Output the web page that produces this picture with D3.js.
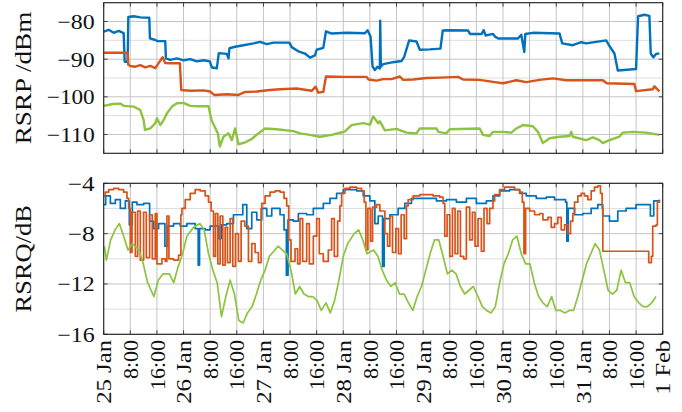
<!DOCTYPE html>
<html>
<head>
<meta charset="utf-8">
<script src="https://cdn.jsdelivr.net/npm/d3@7"></script>
<style>
  html, body { margin: 0; padding: 0; background: #fff; }
  svg { display: block; }
</style>
</head>
<body>
<svg id="chart" width="682" height="412"></svg>
<script>
// Hours since 25 Jan 00:00, one tick every 8 hours up to 1 Feb 00:00
const tickHours = d3.range(0, 169, 8);
const tickLabels = ["25 Jan", "8:00", "16:00", "26 Jan", "8:00", "16:00", "27 Jan", "8:00", "16:00",
  "28 Jan", "8:00", "16:00", "29 Jan", "8:00", "16:00", "30 Jan", "8:00", "16:00",
  "31 Jan", "8:00", "16:00", "1 Feb"];

const rsrpTicks = [-80, -90, -100, -110];
const rsrqTicks = [-4, -8, -12, -16];

// RSRP [hour, dBm]
const rsrpBlue = [
  [0,-82.7],[1.5,-82.2],[3,-83.0],[4.5,-82.5],[6.0,-83.1],[6.3,-90.7],[7.2,-90.7],[7.4,-78.8],[9,-78.6],
  [11,-78.9],[13.7,-79.0],[13.9,-84.5],[15.5,-84.9],[16.2,-85.2],[18.5,-85.2],[18.7,-89.8],[20,-90.2],
  [22,-89.8],[24,-90.3],[26,-90.0],[28,-90.6],[30,-90.3],[31.9,-90.6],[32.5,-92.2],[34.0,-92.4],
  [34.6,-88.4],[37,-88.6],[37.5,-89.8],[37.8,-87.1],[39.5,-86.7],[42,-86.3],[45,-85.8],[47,-85.4],
  [49,-86.0],[51,-85.6],[55.8,-85.6],[56.5,-86.8],[58.5,-87.9],[60.5,-88.5],[62,-89.6],[63.5,-89.0],
  [64.0,-87.5],[66.0,-87.0],[66.8,-82.6],[68.5,-83.2],[73,-83.0],[78.5,-83.1],[79.3,-82.3],[80.2,-84.0],
  [80.8,-91.9],[81.5,-92.9],[82.3,-92.0],[83.0,-92.5],[83.1,-79.8],[83.3,-92.0],[84.0,-91.3],[87,-90.8],
  [89.5,-90.5],[90.3,-89.4],[91.8,-85.0],[94.0,-85.3],[95.0,-87.5],[98,-87.4],[101.2,-87.2],[101.9,-82.4],
  [104,-82.3],[109.5,-82.4],[110.1,-83.3],[113.6,-83.3],[114.2,-82.3],[114.8,-83.7],[117.0,-83.3],
  [117.6,-84.0],[118.6,-84.5],[124.5,-84.5],[125.5,-83.5],[126.4,-88.1],[126.7,-83.3],[129,-83.0],
  [137.0,-83.2],[137.8,-85.8],[141,-86.3],[143.5,-85.5],[145,-85.8],[148,-85.4],[151.0,-85.0],
  [152.0,-86.5],[153.5,-88.5],[154.5,-93.0],[160.0,-92.6],[160.6,-78.6],[162.5,-78.2],[164.0,-78.5],
  [164.4,-88.5],[165.2,-89.5],[166.0,-88.6],[167.0,-88.5]
];
const rsrpOrange = [
  [0,-88.3],[7.2,-88.3],[7.4,-91.5],[8,-91.8],[9.5,-92.0],[11,-91.6],[12.5,-92.2],[14,-91.8],[15.5,-92.4],
  [16.4,-91.2],[17.7,-89.5],[18.5,-91.0],[20,-91.1],[22.9,-91.1],[23.3,-98.2],[26,-98.4],[30,-98.3],
  [32,-98.6],[33.2,-99.5],[37,-99.3],[40.5,-99.5],[42.5,-98.7],[46,-98.6],[50,-98.2],[53,-98.0],
  [58,-97.8],[62.5,-98.4],[63.7,-97.3],[64.5,-98.9],[66.0,-98.7],[66.8,-94.6],[72,-94.7],[79.0,-94.7],
  [79.6,-95.4],[82,-95.7],[84,-95.3],[86.5,-95.3],[89.0,-94.6],[90,-95.5],[93,-95.4],[97,-95.0],
  [101,-94.9],[106.5,-94.7],[108,-95.4],[113,-95.5],[117.5,-96.1],[120,-96.4],[124,-95.6],[127,-96.1],
  [131,-95.5],[135,-95.1],[139,-95.6],[150,-95.6],[151.2,-96.4],[159.5,-96.6],[160.0,-98.5],[165,-98.0],
  [165.5,-97.2],[166.2,-97.8],[167,-98.6]
];
const rsrpGreen = [
  [0,-102.4],[2.8,-101.9],[5,-101.8],[6.0,-102.4],[9.0,-102.6],[11,-103.5],[12,-106.2],[12.4,-108.8],
  [14,-108.4],[15.5,-107.0],[16.0,-105.7],[17,-107.5],[18,-106.2],[19,-104.4],[20.5,-102.6],[22,-101.7],
  [24,-101.6],[26,-102.4],[28,-102.5],[31.5,-102.5],[32.4,-106.2],[33.4,-108.0],[34.3,-109.7],
  [34.9,-113.2],[36.0,-110.6],[37.5,-109.7],[38.5,-111.5],[39.5,-108.4],[40.5,-112.6],[42.5,-112.1],
  [44.5,-111.2],[46.5,-109.7],[48.5,-108.4],[52,-108.6],[57,-109.1],[59,-109.7],[62,-110.1],[65,-110.6],
  [68.5,-110.1],[72.5,-109.2],[74.5,-107.5],[78,-107.0],[80,-107.4],[81.0,-105.2],[82.5,-107.0],
  [83.0,-106.5],[84.5,-108.9],[88,-108.5],[91,-109.5],[94,-109.7],[95,-108.4],[100,-108.4],[100.6,-109.3],
  [103,-109.7],[104,-108.6],[113,-108.4],[114,-110.1],[116,-110.4],[117,-109.3],[120,-109.3],
  [122.5,-109.5],[124,-108.4],[126,-107.5],[129,-107.8],[130.5,-109.3],[132,-112.3],[134,-111.0],
  [137,-110.6],[140,-110.4],[140.5,-109.3],[141,-110.6],[145,-111.5],[147,-110.8],[149,-111.5],
  [150,-112.3],[152,-111.5],[155,-110.6],[156,-109.5],[159,-109.3],[163,-109.5],[167,-110.1]
];

// RSRQ [hour, dB]
const rsrqBlue = [
  [0,-5.7],[0.6,-5.0],[2,-5.6],[3.5,-5.3],[5,-6.0],[6.5,-5.4],[7.7,-7.3],[8.6,-5.5],[10,-5.7],
  [12,-5.6],[13.8,-7.0],[15,-7.6],[16.5,-7.2],[18.4,-9.0],[19.2,-7.4],[21,-7.2],[23,-7.4],[25,-7.2],
  [27.5,-7.6],[28.4,-10.5],[28.8,-7.6],[30.5,-7.7],[32,-7.4],[34.6,-8.4],[35.4,-7.3],[37,-7.2],
  [39,-6.5],[41.8,-5.7],[43,-7.6],[44.5,-6.3],[46,-6.9],[47.5,-6.0],[49,-6.6],[50.5,-6.0],
  [53,-6.5],[54.2,-7.7],[54.9,-11.3],[55.4,-6.9],[57,-7.0],[58.5,-6.4],[61,-6.5],[63,-6.0],
  [66,-5.6],[68,-5.2],[70,-4.8],[72,-4.5],[76,-4.6],[78,-5.0],[80,-5.4],[81.5,-7.2],[82.5,-6.6],
  [83.8,-10.6],[84.3,-6.8],[86,-6.5],[88.5,-6.0],[90.5,-5.6],[92.5,-5.2],[96,-5.2],[100,-5.4],
  [103,-5.3],[106,-5.5],[109,-5.2],[112,-5.6],[115,-5.4],[117,-5.0],[119,-4.6],[122,-4.5],
  [125,-4.8],[127,-5.0],[130,-5.2],[133,-5.1],[135.5,-5.3],[138.8,-5.5],[139.2,-8.6],[139.6,-6.0],
  [141.5,-6.5],[144,-6.4],[146.5,-6.0],[148.5,-5.7],[150,-6.6],[152,-7.0],[154.5,-6.2],[157,-6.0],
  [160,-5.7],[162.5,-5.7],[164.3,-6.6],[165.3,-5.4],[167,-5.3]
];
const rsrqOrange = [
  [0,-5.0],[0.5,-4.7],[1.5,-4.5],[3,-4.4],[4.5,-4.5],[6,-4.7],[7,-5.2],
  [7.5,-6.0],[8,-9.5],[8.5,-6.3],[9.5,-9.8],[10.2,-6.2],[11,-10.1],[12,-6.3],[12.8,-9.9],[13.8,-6.5],
  [14.6,-10.0],[15.5,-6.4],[16,-10.4],[17.5,-10.0],[18.5,-10.2],[19,-6.6],[19.6,-10.0],[21,-10.1],
  [22.5,-9.7],[23.2,-6.5],
  [23.5,-6.0],[24.5,-5.3],[26,-4.8],[27.5,-4.5],[29,-4.6],[30.5,-5.0],[31.5,-5.5],[32.3,-6.2],
  [33,-9.8],[33.6,-6.4],[34.3,-10.4],[35,-6.6],[35.8,-10.5],[36.5,-7.5],[37.2,-10.3],[38,-6.8],
  [38.8,-10.6],[39.6,-8],[40.5,-10.2],[41.3,-7.0],[42.4,-7.4],[43.5,-10.2],[44.5,-8.8],[45.5,-9.5],
  [46.5,-10.3],[47.3,-6.0],
  [47.5,-5.6],[48.5,-5.0],[50,-4.7],[51.5,-4.6],[53,-4.7],[54.2,-5.2],[55,-5.8],
  [55.6,-8.5],[56.3,-10.2],[57.5,-9.2],[58.3,-10.4],[59,-6.8],[59.8,-10.2],[61,-7.2],[61.8,-10.4],
  [63,-8.2],[64,-6.8],[64.8,-9.6],[66,-10.2],[67.5,-9.3],[68.5,-6.8],[69.3,-9.8],[70.3,-7.0],[71,-5.8],
  [71.5,-4.8],[72.5,-4.4],[74,-4.3],[76,-4.4],[77.5,-4.6],[78.3,-5.5],
  [78.8,-9.3],[79.4,-6.0],[80.2,-8.6],[80.8,-5.9],[82,-5.7],[83,-6.2],[84.5,-8.0],[85.3,-9.0],
  [86,-6.6],[86.8,-9.5],[87.8,-7.6],[88.6,-9.6],[89.4,-6.5],[90.3,-8.4],[91,-5.8],
  [91.5,-5.3],[93,-5.0],[95,-4.9],[97,-4.9],[99,-5.0],[101,-5.1],[102,-5.6],
  [102.5,-8.2],[103.2,-6.5],[104,-9.8],[104.8,-6.0],[105.6,-9.6],[106.4,-6.2],[107.2,-9.8],
  [108.2,-10.0],[109,-5.9],[110,-8.5],[110.8,-6.3],[111.6,-9.0],[112.5,-6.8],[113.5,-9.4],[114.3,-6.0],
  [115.2,-7.2],[116,-6.0],[117,-5.4],
  [117.5,-4.9],[119,-4.5],[120.5,-4.3],[122,-4.3],[123.5,-4.5],[125,-4.7],[125.8,-5.5],
  [126.3,-9.6],[126.8,-6.0],[128,-6.2],[129.5,-6.5],[131,-6.4],[132,-6.9],[133.5,-6.7],[134.5,-7.5],
  [135.5,-7.2],[136.5,-6.7],[137.5,-7.7],[138.5,-7.3],[139.5,-8.0],[140.3,-7.0],[141,-6.4],
  [141.5,-5.5],[142.5,-5.0],[143.5,-4.8],[144.5,-5.0],[145.5,-5.3],[146.5,-4.6],[147.5,-4.3],
  [148.5,-4.2],[149.3,-4.8],[149.8,-6.0],
  [150,-9.4],[163.5,-9.4],[163.8,-10.3],[164.6,-9.8],[165,-7.4],[166,-7.3],[166.4,-5.5],[167,-5.3]
];
const rsrqGreen = [
  [0.2,-9.0],[0.8,-10.1],[2.1,-8.5],[3.4,-7.7],[4.7,-7.2],[6.0,-8.2],[7.3,-9.3],[8.6,-8.8],[10.6,-9.3],
  [11.9,-10.4],[13.2,-11.9],[15.1,-13.0],[16.4,-11.7],[17.8,-11.2],[19.75,-11.2],[21.05,-11.9],
  [22.4,-10.6],[23.7,-9.6],[25.0,-8.2],[27.0,-7.5],[28.9,-7.2],[30.2,-7.7],[31.5,-9.6],[32.8,-10.9],
  [34.1,-11.9],[35.4,-14.6],[36.7,-13.0],[38.0,-11.7],[39.3,-12.8],[40.6,-14.9],[41.9,-15.1],
  [43.2,-14.3],[44.6,-13.8],[45.9,-12.8],[47.2,-11.7],[48.5,-10.9],[49.8,-9.8],[52.4,-9.0],[55.0,-9.6],
  [56.3,-10.9],[57.6,-12.8],[58.9,-12.2],[60.2,-12.8],[61.5,-13.0],[62.8,-13.0],[64.1,-13.3],
  [65.4,-14.1],[66.8,-13.5],[68.1,-14.3],[69.4,-13.3],[70.7,-11.7],[72.0,-9.8],[73.3,-8.8],[75.3,-8.0],
  [76.6,-7.7],[77.9,-8.5],[79.1,-9.6],[81.1,-9.3],[82.4,-9.8],[83.7,-10.9],[85.0,-11.7],[86.3,-12.2],
  [87.6,-11.9],[88.9,-12.8],[90.3,-12.8],[91.6,-13.5],[92.9,-14.1],[94.2,-13.0],[95.5,-12.2],
  [96.8,-10.9],[98.1,-9.6],[99.4,-8.5],[100.7,-8.5],[102.0,-9.8],[103.3,-11.2],[104.6,-10.9],
  [105.9,-11.2],[107.2,-12.2],[108.5,-12.8],[109.8,-12.5],[111.1,-12.2],[112.5,-13.0],[113.8,-13.8],
  [115.1,-14.1],[116.4,-14.3],[117.7,-13.8],[119.0,-11.9],[120.3,-10.4],[121.6,-9.6],[122.9,-8.5],
  [124.2,-8.2],[125.5,-9.6],[126.8,-10.4],[128.1,-10.4],[129.4,-11.9],[130.7,-13.0],[132.0,-13.5],
  [133.3,-13.8],[134.6,-13.0],[135.9,-14.1],[137.3,-14.1],[138.6,-14.3],[139.9,-14.1],[141.2,-14.1],
  [142.5,-13.0],[143.8,-11.7],[145.1,-10.4],[146.4,-9.6],[147.7,-8.8],[149.0,-9.3],[150.3,-10.9],
  [151.6,-12.5],[152.9,-12.8],[154.2,-12.5],[155.5,-10.9],[156.8,-11.9],[158.1,-11.9],[159.4,-13.0],
  [160.8,-13.5],[162.1,-13.8],[163.4,-13.8],[164.7,-13.5],[166.0,-13.0]
];

const colors = { blue: "#0072bd", orange: "#d95319", green: "#8cc43f" };
const serif = "'Liberation Serif', 'DejaVu Serif', serif";

// Advance widths (em) of a Computer Modern roman face, used to set the
// typeset length of each label so the serif face spreads like CM text.
const cmWidth = {
  "0": .5, "1": .5, "2": .5, "3": .5, "4": .5, "5": .5, "6": .5, "7": .5, "8": .5, "9": .5,
  ":": .278, " ": .333, "/": .5, "\u2212": .778, "J": .514, "a": .5, "n": .556, "F": .653,
  "e": .444, "b": .556, "R": .736, "S": .556, "P": .681, "Q": .778, "d": .556, "B": .708, "m": .833
};
const cmLength = (s, size) => d3.sum(Array.from(s), c => cmWidth[c] ?? .5) * size;

function typeset(sel, size) {
  sel.attr("font-size", size).attr("font-family", serif).attr("fill", "#111")
    .attr("lengthAdjust", "spacingAndGlyphs")
    .attr("textLength", function () { return cmLength(this.textContent, size); });
}

const svg = d3.select("#chart");
const left = 103.7, right = 662.7;

const x = d3.scaleLinear().domain([0, 168]).range([left, right]);

const panels = [
  {
    top: 2.7, bottom: 153.3, domain: [-115, -75], ticks: rsrpTicks, minor: [-75, -85, -95, -105, -115],
    label: "RSRP /dBm", width: 2.4,
    series: [[rsrpBlue, colors.blue, d3.curveLinear], [rsrpOrange, colors.orange, d3.curveLinear],
             [rsrpGreen, colors.green, d3.curveLinear]]
  },
  {
    top: 183.3, bottom: 334.3, domain: [-16, -4], ticks: rsrqTicks, minor: [-6, -10, -14],
    label: "RSRQ/dB", width: 1.7,
    series: [[rsrqBlue, colors.blue, d3.curveStepAfter], [rsrqOrange, colors.orange, d3.curveStepAfter],
             [rsrqGreen, colors.green, d3.curveLinear]]
  }
];

panels.forEach((p, i) => {
  const y = d3.scaleLinear().domain(p.domain).range([p.bottom, p.top]);
  const g = svg.append("g");

  // grid
  g.append("g").selectAll("line").data(p.minor).join("line")
    .attr("x1", left).attr("x2", right)
    .attr("y1", d => y(d)).attr("y2", d => y(d))
    .attr("stroke", "#dedede").attr("stroke-width", 1);
  g.append("g").selectAll("line").data(p.ticks).join("line")
    .attr("x1", left).attr("x2", right)
    .attr("y1", d => y(d)).attr("y2", d => y(d))
    .attr("stroke", "#c4c4c4").attr("stroke-width", 1);
  g.append("g").selectAll("line").data(tickHours).join("line")
    .attr("x1", d => x(d)).attr("x2", d => x(d))
    .attr("y1", p.top).attr("y2", p.bottom)
    .attr("stroke", "#c4c4c4").attr("stroke-width", 1);

  // series
  const clipId = "clip" + i;
  svg.append("clipPath").attr("id", clipId).append("rect")
    .attr("x", left).attr("y", p.top).attr("width", right - left).attr("height", p.bottom - p.top);
  const lines = g.append("g").attr("clip-path", `url(#${clipId})`);
  p.series.forEach(([data, c, curve]) => {
    const line = d3.line().curve(curve).x(d => x(d[0])).y(d => y(d[1]));
    lines.append("path").datum(data)
      .attr("d", line)
      .attr("fill", "none").attr("stroke", c)
      .attr("stroke-width", p.width).attr("stroke-linejoin", "round");
  });

  // inward tick marks
  const tk = g.append("g").attr("stroke", "#444").attr("stroke-width", 1);
  p.ticks.forEach(t => {
    tk.append("line").attr("x1", left).attr("x2", left + 4).attr("y1", y(t)).attr("y2", y(t));
    tk.append("line").attr("x1", right).attr("x2", right - 4).attr("y1", y(t)).attr("y2", y(t));
  });
  tickHours.forEach(h => {
    tk.append("line").attr("x1", x(h)).attr("x2", x(h)).attr("y1", p.bottom).attr("y2", p.bottom - 4);
    tk.append("line").attr("x1", x(h)).attr("x2", x(h)).attr("y1", p.top).attr("y2", p.top + 4);
  });

  // frame
  g.append("rect").attr("x", left).attr("y", p.top)
    .attr("width", right - left).attr("height", p.bottom - p.top)
    .attr("fill", "none").attr("stroke", "#222").attr("stroke-width", 1.1);

  // y tick labels
  g.append("g").selectAll("text").data(p.ticks).join("text")
    .attr("x", left - 9).attr("y", d => y(d)).attr("dy", "0.35em")
    .attr("text-anchor", "end")
    .text(d => String(d).replace("-", "\u2212"))
    .call(typeset, 21);

  // axis label
  g.append("text")
    .attr("transform", `translate(31,${(p.top + p.bottom) / 2}) rotate(-90)`)
    .attr("text-anchor", "middle")
    .text(p.label)
    .call(typeset, 23.5);
});

// x tick labels, rotated
svg.append("g").selectAll("text").data(tickHours).join("text")
  .attr("transform", d => `translate(${x(d)},340) rotate(-90)`)
  .attr("dy", "0.35em").attr("text-anchor", "end")
  .text((d, i) => tickLabels[i])
  .call(typeset, 22);
</script>
</body>
</html>
